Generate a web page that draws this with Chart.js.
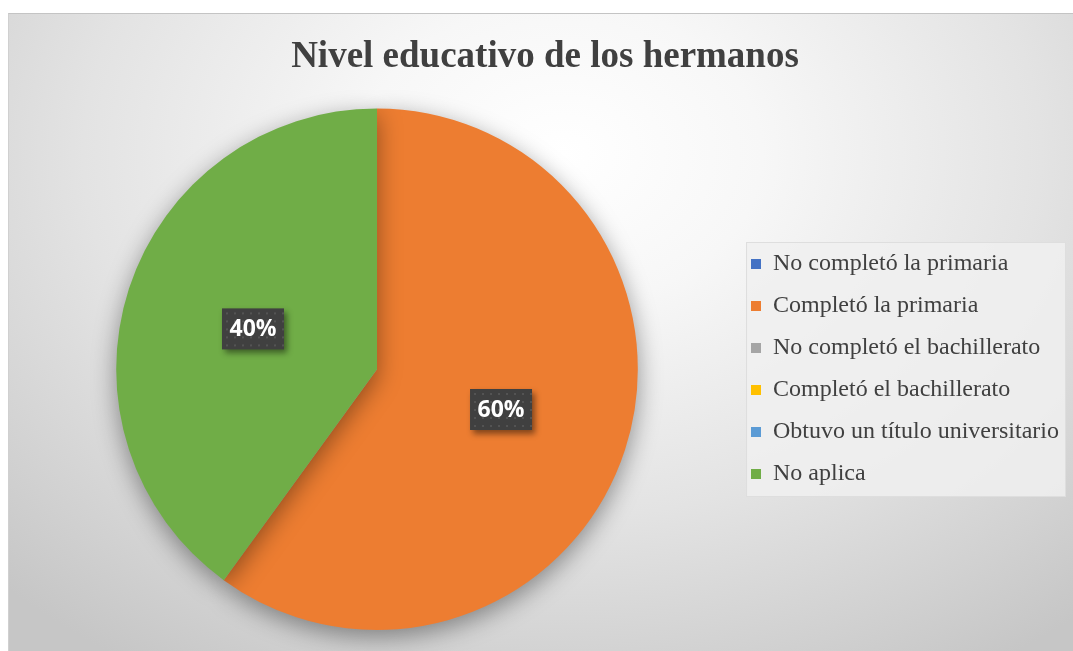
<!DOCTYPE html>
<html lang="es">
<head>
<meta charset="UTF-8">
<title>Nivel educativo de los hermanos</title>
<script src="https://cdn.jsdelivr.net/npm/chart.js"></script>
<style>
    * { margin: 0; padding: 0; box-sizing: border-box; }
    body { background: #fff; width: 1073px; height: 651px; overflow: hidden; }
    .frame {
        position: absolute;
        left: 8px;
        top: 13px;
        width: 1065px;
        height: 638px;
        border-top: 1px solid #c4c4c4;
        border-left: 1px solid #d0d0d0;
        background: radial-gradient(ellipse 75% 95% at 52% 22%, #ffffff 0%, #f7f7f7 25%, #e3e3e3 60%, #d1d1d1 85%, #c6c6c6 100%);
    }
    canvas { display: block; }
</style>
</head>
<body>
<div class="frame"><canvas id="pie" width="1064" height="637"></canvas></div>
<script>
    const title = 'Nivel educativo de los hermanos';
    const categories = [
        'No completó la primaria',
        'Completó la primaria',
        'No completó el bachillerato',
        'Completó el bachillerato',
        'Obtuvo un título universitario',
        'No aplica'
    ];
    const percents = [0, 60, 0, 0, 0, 40];
    const colors = ['#4472C4', '#ED7D31', '#A5A5A5', '#FFC000', '#5B9BD5', '#70AD47'];

    // soft shadow under the pie
    const pieShadow = {
        id: 'pieShadow',
        beforeDatasetsDraw(chart) {
            const ctx = chart.ctx;
            ctx.save();
            ctx.shadowColor = 'rgba(0,0,0,0.4)';
            ctx.shadowBlur = 24;
            ctx.shadowOffsetY = 7;
        },
        afterDatasetsDraw(chart) {
            chart.ctx.restore();
        }
    };

    // dark label boxes like Excel's data callouts
    const sliceLabels = {
        id: 'sliceLabels',
        afterDatasetsDraw(chart) {
            const ctx = chart.ctx;
            const meta = chart.getDatasetMeta(0);
            meta.data.forEach((arc, i) => {
                const v = percents[i];
                if (!v) return;
                const p = arc.tooltipPosition();
                const text = v + '%';
                const w = 62, h = 41;
                const x = p.x - w / 2, y = p.y - h / 2;
                ctx.save();
                ctx.shadowColor = 'rgba(0,0,0,0.45)';
                ctx.shadowBlur = 6;
                ctx.shadowOffsetX = 3;
                ctx.shadowOffsetY = 4;
                ctx.fillStyle = '#404040';
                ctx.fillRect(x, y, w, h);
                ctx.restore();
                // dotted texture
                ctx.save();
                ctx.fillStyle = '#545454';
                for (let dy = 4; dy < h; dy += 8) {
                    for (let dx = 4; dx < w; dx += 8) {
                        ctx.fillRect(x + dx, y + dy, 2, 2);
                    }
                }
                ctx.fillStyle = '#ffffff';
                ctx.font = 'bold 23px "Open Sans", "Liberation Sans", sans-serif';
                ctx.textAlign = 'center';
                ctx.textBaseline = 'middle';
                ctx.fillText(text, p.x, p.y + 1);
                ctx.restore();
            });
        }
    };

    // light panel behind the legend
    const legendPanel = {
        id: 'legendPanel',
        beforeDraw(chart) {
            const lg = chart.legend;
            if (!lg || !lg.legendHitBoxes.length) return;
            const boxes = lg.legendHitBoxes;
            const left = Math.min(...boxes.map(b => b.left)) - 5;
            const right = Math.max(...boxes.map(b => b.left + b.width)) + 6;
            const top = boxes[0].top - 10;
            const bottom = boxes[boxes.length - 1].top + boxes[boxes.length - 1].height + 10;
            const ctx = chart.ctx;
            ctx.save();
            ctx.fillStyle = 'rgba(240,240,240,0.85)';
            ctx.strokeStyle = '#dedede';
            ctx.lineWidth = 1;
            ctx.fillRect(left, top, right - left, bottom - top);
            ctx.strokeRect(left + 0.5, top + 0.5, right - left, bottom - top);
            ctx.restore();
        }
    };

    new Chart(document.getElementById('pie'), {
        type: 'pie',
        data: {
            labels: categories,
            datasets: [{
                data: percents,
                backgroundColor: colors,
                borderWidth: 0
            }]
        },
        options: {
            responsive: false,
            animation: false,
            layout: { padding: { left: 12, right: 4, top: 0, bottom: 21 } },
            plugins: {
                title: {
                    display: true,
                    text: title,
                    color: '#404040',
                    font: { family: '"Liberation Serif", "Times New Roman", serif', size: 37, weight: 'bold' },
                    padding: { top: 21, bottom: 29 }
                },
                legend: {
                    position: 'right',
                    align: 'center',
                    title: {
                        display: true,
                        text: '',
                        font: { size: 10 },
                        padding: { top: 0, bottom: 82 }
                    },
                    labels: {
                        color: '#404040',
                        font: { family: '"Liberation Serif", "Times New Roman", serif', size: 24 },
                        boxWidth: 10,
                        boxHeight: 10,
                        padding: 18
                    }
                },
                tooltip: { enabled: false }
            }
        },
        plugins: [legendPanel, pieShadow, sliceLabels]
    });
</script>
</body>
</html>
